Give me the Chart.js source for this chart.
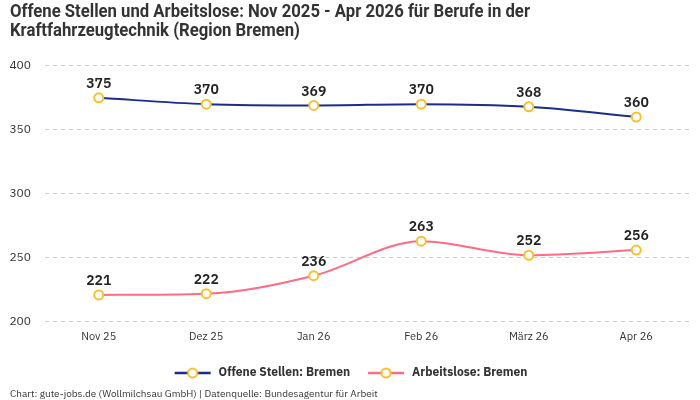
<!DOCTYPE html>
<html>
<head>
<meta charset="utf-8">
<script src="https://cdn.jsdelivr.net/npm/chart.js@4"></script>
<style>
  html, body { margin: 0; padding: 0; background: #fff; }
  #wrap { width: 700px; height: 400px; }
</style>
</head>
<body>
<div id="wrap"><canvas id="chart"></canvas></div>
<script>
var monate = ['Nov 25', 'Dez 25', 'Jan 26', 'Feb 26', 'März 26', 'Apr 26'];
var offeneStellen = [375, 370, 369, 370, 368, 360];
var arbeitslose = [221, 222, 236, 263, 252, 256];
var yTicks = [200, 250, 300, 350, 400];
var titelZeilen = ['Offene Stellen und Arbeitslose: Nov 2025 - Apr 2026 für Berufe in der', 'Kraftfahrzeugtechnik (Region Bremen)'];

var schrift = '"IBM Plex Sans", "Noto Sans", "Open Sans", sans-serif';
var farben = ['#1a2d8c', '#ff6b84'];
var punktFarbe = '#f8c12c';

// kleines Legendensymbol: Linie mit Kreis
function legendenSymbol(farbe) {
    var c = document.createElement('canvas');
    c.width = 40; c.height = 14;
    var g = c.getContext('2d');
    g.strokeStyle = farbe;
    g.lineWidth = 2.5;
    g.beginPath(); g.moveTo(2, 7); g.lineTo(38, 7); g.stroke();
    g.beginPath(); g.arc(20, 7, 4.5, 0, Math.PI * 2);
    g.fillStyle = '#fff'; g.fill();
    g.strokeStyle = punktFarbe; g.lineWidth = 2; g.stroke();
    return c;
}

var wertLabels = {
    id: 'wertLabels',
    afterDatasetsDraw: function (chart) {
        var ctx = chart.ctx;
        ctx.save();
        ctx.font = '600 14px ' + schrift;
        ctx.fillStyle = '#222';
        ctx.textAlign = 'center';
        ctx.textBaseline = 'bottom';
        chart.data.datasets.forEach(function (ds, i) {
            chart.getDatasetMeta(i).data.forEach(function (pt, j) {
                ctx.fillText(ds.data[j], pt.x, pt.y - 7);
            });
        });
        ctx.restore();
    }
};

// Titel schmal gezeichnet (Chart.js-Titel reserviert nur den Platz)
var schmalerTitel = {
    id: 'schmalerTitel',
    afterDraw: function (chart) {
        var ctx = chart.ctx;
        ctx.save();
        ctx.font = 'bold 18px Roboto, sans-serif';
        ctx.fillStyle = '#333';
        ctx.textBaseline = 'middle';
        var breite = ctx.measureText(titelZeilen[0]).width;
        var sx = 520 / breite;
        ctx.translate(10, 0);
        ctx.scale(sx, 1);
        ctx.fillText(titelZeilen[0], 0, 12);
        ctx.fillText(titelZeilen[1], 0, 31);
        ctx.restore();
    }
};

new Chart(document.getElementById('chart'), {
    type: 'line',
    data: {
        labels: monate,
        datasets: [{
            label: 'Offene Stellen: Bremen',
            data: offeneStellen,
            borderColor: farben[0],
            pointBorderColor: punktFarbe,
            pointBackgroundColor: '#fff'
        }, {
            label: 'Arbeitslose: Bremen',
            data: arbeitslose,
            borderColor: farben[1],
            pointBorderColor: punktFarbe,
            pointBackgroundColor: '#fff'
        }]
    },
    options: {
        responsive: true,
        maintainAspectRatio: false,
        animation: false,
        layout: { padding: { left: 10, right: 10, top: 4, bottom: 0 } },
        elements: {
            line: { borderWidth: 2, tension: 0.4, cubicInterpolationMode: 'monotone' },
            point: { radius: 4.5, borderWidth: 2, hoverRadius: 4.5 }
        },
        scales: {
            x: {
                offset: true,
                grid: { display: false, drawTicks: false },
                border: { display: false },
                ticks: { color: '#333', font: { family: schrift, size: 11 }, padding: 8 }
            },
            y: {
                min: 200, max: 400,
                afterBuildTicks: function (axis) {
                    axis.ticks = yTicks.map(function (v) { return { value: v }; });
                },
                afterFit: function (axis) { axis.width = 35; },
                border: { display: false, dash: [4, 4] },
                grid: { color: '#cccccc', drawTicks: false },
                ticks: { color: '#333', font: { family: schrift, size: 12 }, padding: 14 }
            }
        },
        plugins: {
            title: {
                display: true,
                align: 'start',
                text: titelZeilen,
                color: 'rgba(0,0,0,0)',
                font: { family: schrift, size: 17, weight: 'bold', lineHeight: 1.2 },
                padding: { top: 0, bottom: 21 }
            },
            subtitle: {
                display: true,
                position: 'bottom',
                align: 'start',
                text: 'Chart: gute-jobs.de (Wollmilchsau GmbH) | Datenquelle: Bundesagentur für Arbeit',
                color: '#333',
                font: { family: schrift, size: 10 },
                padding: { top: -1, bottom: 0 }
            },
            legend: {
                position: 'bottom',
                labels: {
                    usePointStyle: true,
                    pointStyleWidth: 40,
                    color: '#333',
                    padding: 16,
                    font: { family: schrift, size: 12, weight: 'bold' },
                    generateLabels: function (chart) {
                        return chart.data.datasets.map(function (ds, i) {
                            return {
                                text: ds.label,
                                pointStyle: legendenSymbol(farben[i]),
                                fillStyle: '#fff',
                                strokeStyle: farben[i],
                                lineWidth: 0,
                                fontColor: '#333',
                                datasetIndex: i
                            };
                        });
                    }
                }
            },
            tooltip: { enabled: false }
        }
    },
    plugins: [wertLabels, schmalerTitel]
});
</script>
</body>
</html>
